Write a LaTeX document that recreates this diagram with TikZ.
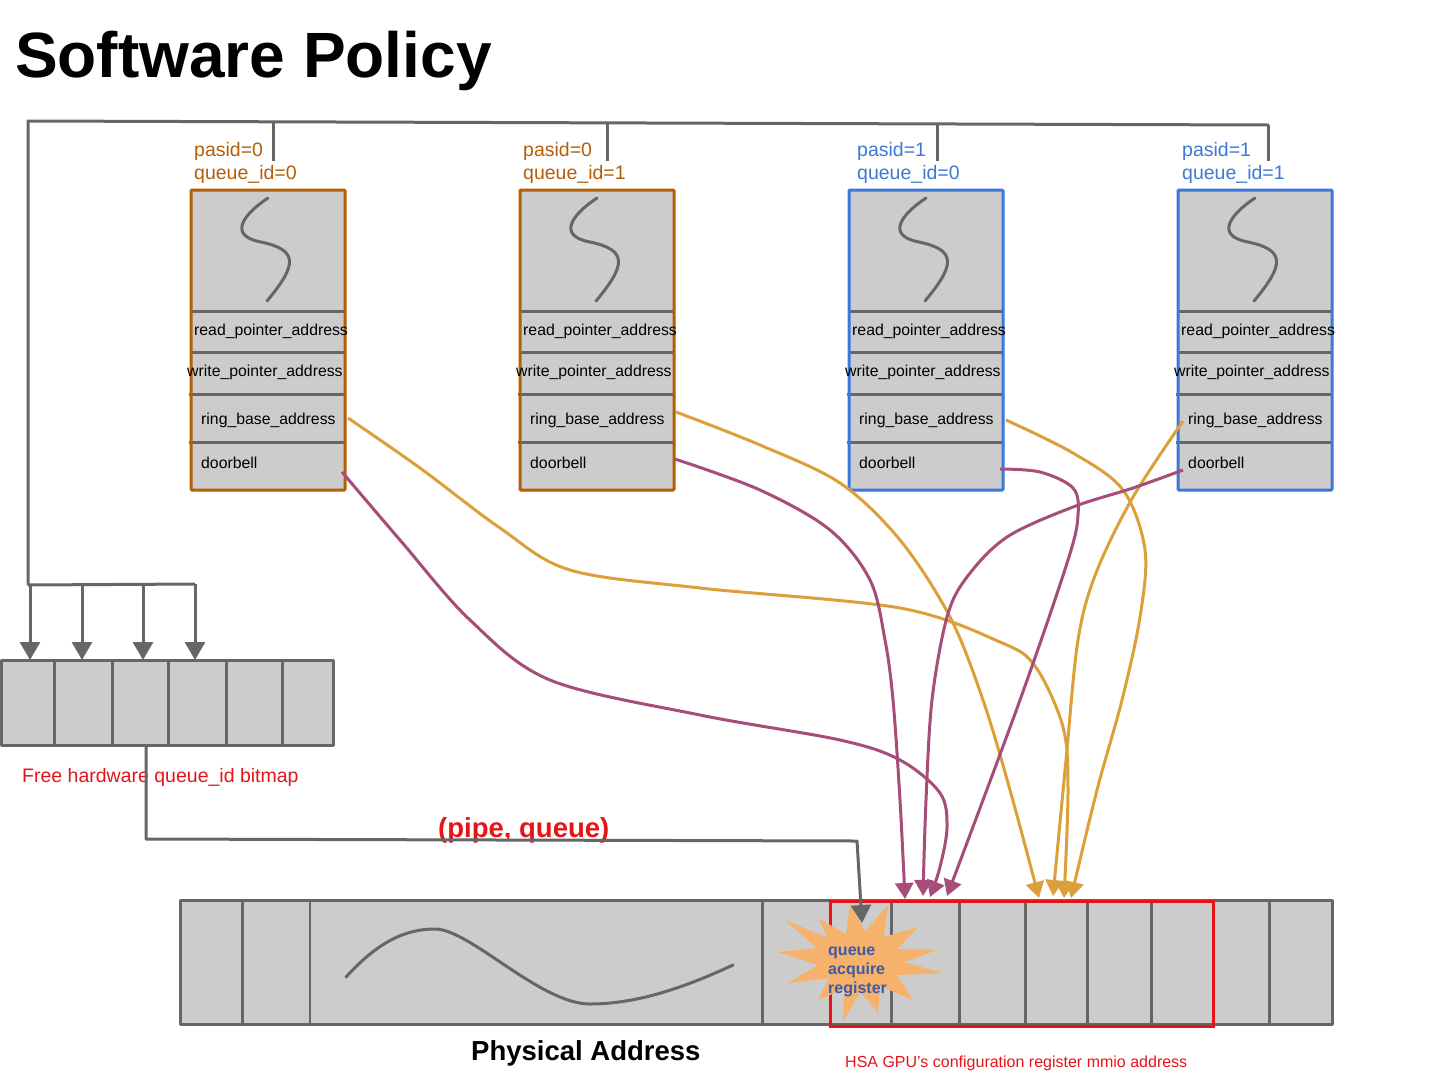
\documentclass[tikz,border=0pt]{standalone}
\usepackage{fontspec}
\setmainfont{Liberation Sans}
\usetikzlibrary{arrows.meta}
\definecolor{lgray}{HTML}{666666}
\definecolor{boxfill}{HTML}{CCCCCC}
\definecolor{borange}{HTML}{B45F06}
\definecolor{bblue}{HTML}{3C78D8}
\definecolor{magc}{HTML}{A64D79}
\definecolor{yelc}{RGB}{219,160,58}
\definecolor{starc}{HTML}{F6B26B}
\definecolor{startext}{HTML}{3C5AA6}
\definecolor{redc}{RGB}{230,20,25}
\tikzset{
  gline/.style={draw=lgray, line width=3pt, line join=round},
  garrow/.style={gline, -{Triangle[length=18pt,width=20pt]}},
  mline/.style={draw=magc, line width=3pt, -{Triangle[length=16pt,width=18pt]}},
  yline/.style={draw=yelc, line width=3pt, -{Triangle[length=16pt,width=18pt]}},
  fieldtxt/.style={font=\fontsize{15.8}{18}\selectfont, anchor=base west, inner sep=0pt},
  lbltxt/.style={font=\fontsize{19.5}{23}\selectfont, anchor=base west, inner sep=0pt},
}
\begin{document}
\begin{tikzpicture}[x=1pt,y=-1pt]
\useasboundingbox (0,0) rectangle (1440,1080);
\fill[white] (0,0) rectangle (1440,1080);

% title
\node[font=\fontsize{64}{70}\selectfont\bfseries, anchor=base west, inner sep=0pt] (title) at (15,77) {Software Policy};

% top distribution line
\coordinate (tl) at (28,121);
\coordinate (tr) at (1269,125);
\coordinate (ll) at (28,585);
\draw[gline] (ll) -- (tl) -- (tr);
\foreach \dx/\dy in {273/122, 607/123, 937/124, 1268/125}{
  \draw[gline] (\dx,\dy) -- (\dx,161);
}

% queue boxes
\foreach \n/\x/\c/\pa/\q/\lx in {1/191/borange/0/0/194, 2/520/borange/0/1/523, 3/849/bblue/1/0/857, 4/1178/bblue/1/1/1182}{
  \fill[boxfill] (\x,190) rectangle ++(154,300);
  \draw[gline] (\x,311) -- ++(154,0);
  \draw[gline] (\x,352) -- ++(154,0);
  \draw[gline] (\x-2,394) -- ++(156,0);
  \draw[gline] (\x-2,442) -- ++(156,0);
  \draw[draw=\c, line width=3pt, rounded corners=1pt] (\x,190) rectangle ++(154,300);
  \draw[gline, line cap=round] (\x+77,198) .. controls (\x+50,216) and (\x+38,236) .. (\x+70,242)
        .. controls (\x+108,250) and (\x+106,265) .. (\x+76,301);
  \node[lbltxt, text=\c] (pa\n) at (\lx,156) {pasid=\pa};
  \node[lbltxt, text=\c] (qi\n) at (\lx,179) {queue\_id=\q};
  \node[fieldtxt] (rp\n) at (\x+3,335) {read\_pointer\_address};
  \node[fieldtxt] (wp\n) at (\x-4,376) {write\_pointer\_address};
  \node[fieldtxt] (rb\n) at (\x+10,424) {ring\_base\_address};
  \node[fieldtxt] (db\n) at (\x+10,468) {doorbell};
}

% bitmap
\fill[boxfill] (1.5,660) rectangle (333,745);
\foreach \bx in {54,112,168,226,282}{
  \draw[gline] (\bx,660) -- (\bx,745);
}
\draw[gline] (1.5,660) rectangle (333,745);
\coordinate (hl) at (28,585);
\coordinate (hr) at (195,584);
\draw[gline] (hl) -- (hr);
\foreach \ax/\ay in {30/585, 82/585, 143/584, 195/584}{
  \draw[garrow] (\ax,\ay) -- (\ax,660);
}
\node[lbltxt, text=redc] (bmlbl) at (22,782) {Free hardware queue\_id bitmap};

% bottom bar
\fill[boxfill] (180,900) rectangle (1332,1024);
\draw[gline, line cap=round] (346,977) .. controls (378,942) and (405,929) .. (435,929)
   .. controls (470,929) and (540,1004) .. (590,1004)
   .. controls (640,1004) and (690,985) .. (733,965);
\foreach \bx in {242,762,830,891,959,1025,1087,1151,1213,1269}{
  \draw[gline] (\bx,900) -- (\bx,1024);
}
\draw[draw=lgray, line width=2pt] (310,900) -- (310,1024);
\draw[gline] (180,900) rectangle (1332,1024);
\draw[draw=redc, line width=3pt] (830,901) rectangle (1213,1026);
% starburst (on top of the bar and the red frame)
\fill[starc, shift={(860,962)}]
  (28,-57) -- (24,-25) -- (58,-35) -- (37,-13) -- (77,-12) -- (44,0) -- (82,11) -- (37,13)
  -- (53,38) -- (20,24) -- (18,50) -- (0,30) -- (-17,60) -- (-16,27) -- (-42,38) -- (-31,16)
  -- (-72,21) -- (-42,3) -- (-82,-10) -- (-43,-14) -- (-75,-42) -- (-32,-24) -- (-42,-44)
  -- (-14,-28) -- (-10,-57) -- (5,-31) -- cycle;
\node[font=\fontsize{16}{19}\selectfont\bfseries, text=startext, anchor=base west, inner sep=0pt] (sq) at (828,955) {queue};
\node[font=\fontsize{16}{19}\selectfont\bfseries, text=startext, anchor=base west, inner sep=0pt] (sa) at (828,974) {acquire};
\node[font=\fontsize{16}{19}\selectfont\bfseries, text=startext, anchor=base west, inner sep=0pt] (sr) at (828,993) {register};

\node[font=\fontsize{27.5}{32}\selectfont\bfseries, anchor=base west, inner sep=0pt] (phys) at (471,1060) {Physical Address};
\node[font=\fontsize{16}{19}\selectfont, text=redc, anchor=base west, inner sep=0pt] (hsa) at (845,1067) {HSA GPU’s configuration register mmio address};
\node[font=\fontsize{27.5}{32}\selectfont\bfseries, text=redc, anchor=base west, inner sep=0pt] (pq) at (438,837) {(pipe, queue)};

% bitmap to queue acquire register
\coordinate (bmo) at (146,745);
\coordinate (qar) at (862,923);
\draw[garrow] (bmo) -- (146,839) -- (857,841) -- (qar);

% connector end points
\coordinate (sR1) at (348,418);
\coordinate (sR2) at (676,412);
\coordinate (sR3) at (1006,420);
\coordinate (sR4) at (1183,421);
\coordinate (sD1) at (342,472);
\coordinate (sD2) at (675,459);
\coordinate (sD3) at (1000,469);
\coordinate (sD4) at (1183,470);
\coordinate (eR1) at (1064,898);
\coordinate (eR2) at (1039,898);
\coordinate (eR3) at (1071,898);
\coordinate (eR4) at (1053,896);
\coordinate (eD1) at (930,897);
\coordinate (eD2) at (905,899);
\coordinate (eD3) at (947,896);
\coordinate (eD4) at (923,896);

% ring_base connectors
\draw[yline] plot[smooth, tension=0.55] coordinates {(sR1) (420,468) (500,528) (570,570) (700,588) (900,608) (1000,642) (1035,666) (1063,727) (1068,790) (eR1)};
\draw[yline] plot[smooth, tension=0.55] coordinates {(sR2) (760,445) (840,483) (900,540) (950,617) (983,700) (1010,790) (eR2)};
\draw[yline] plot[smooth, tension=0.55] coordinates {(sR3) (1073,453) (1123,490) (1145,550) (1140,617) (1122,700) (1097,790) (eR3)};
\draw[yline] plot[smooth, tension=0.55] coordinates {(sR4) (1133,497) (1096,573) (1078,640) (1066,760) (eR4)};

% doorbell connectors
\draw[mline] plot[smooth, tension=0.55] coordinates {(sD1) (400,540) (470,620) (550,680) (700,715) (840,740) (900,760) (940,793) (947,827) (940,867) (eD1)};
\draw[mline] plot[smooth, tension=0.55] coordinates {(sD2) (760,490) (830,530) (870,580) (885,640) (893,700) (900,800) (eD2)};
\draw[mline] plot[smooth, tension=0.55] coordinates {(sD3) (1040,472) (1073,488) (1078,515) (1068,560) (1020,700) (eD3)};
\draw[mline] plot[smooth, tension=0.55] coordinates {(sD4) (1133,488) (1073,507) (1007,537) (967,577) (947,617) (932,700) (926,800) (eD4)};
\end{tikzpicture}
\end{document}
